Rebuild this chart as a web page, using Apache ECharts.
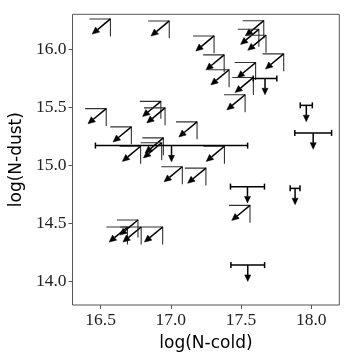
<!DOCTYPE html>
<html><head><meta charset="utf-8">
<script src="https://cdn.jsdelivr.net/npm/echarts@6/dist/echarts.min.js"></script>
<style>html,body{margin:0;padding:0;background:#fff}#c{width:357px;height:357px}</style>
</head><body><div id="c"></div>
<script>
// Upper limits in both quantities (corner of the L marker)
var bothX = [16.570,16.989,17.308,17.380,17.415,17.662,17.627,17.678,17.804,17.604,17.588,17.529,16.540,16.929,16.959,16.719,17.187,16.947,16.935,16.785,17.382,17.082,17.250,17.564,16.691,16.789,16.942,16.766];
var bothY = [16.26,16.243,16.114,15.951,15.823,16.245,16.171,16.12,15.96,15.885,15.757,15.608,15.489,15.551,15.495,15.332,15.375,15.237,15.195,15.165,15.165,14.989,14.977,14.657,14.471,14.471,14.471,14.531];
// Upper limits in dust with x range
var limX = [17.005,17.671,17.965,18.014,17.546,17.885,17.548];
var limY = [15.171,15.748,15.517,15.28,14.818,14.803,14.143];
var limXerr = [0.542,0.084,0.043,0.131,0.121,0.035,0.12];
var xTicks = [16.5,17.0,17.5,18.0];
var yTicks = [14.0,14.5,15.0,15.5,16.0];

var LBAR = 0.15, ARR = 0.13, DARR = 0.14;

function arrowHead(p0, p1, len, wid) {
  var dx = p1[0]-p0[0], dy = p1[1]-p0[1];
  var L = Math.sqrt(dx*dx+dy*dy); var ux = dx/L, uy = dy/L;
  var bx = p1[0]-ux*len, by = p1[1]-uy*len;
  return {base:[bx,by], pts:[[p1[0],p1[1]],[bx-uy*wid/2,by+ux*wid/2],[bx+uy*wid/2,by-ux*wid/2]]};
}

var bothData = bothX.map(function(x,i){return [x,bothY[i]];});
var limData = limX.map(function(x,i){return [x,limY[i],limXerr[i]];});

var chart = echarts.init(document.getElementById('c'), null, {renderer:'canvas'});
chart.setOption({
  animation:false,
  grid:{left:67.3,right:17.7,top:14.3,bottom:50.3,show:true,borderColor:'#555',borderWidth:1,backgroundColor:'transparent'},
  xAxis:{type:'value',min:16.3,max:18.2,
    name:'log(N-cold)',nameLocation:'middle',nameGap:30,
    nameTextStyle:{fontFamily:'DejaVu Sans',fontSize:17,color:'#000'},
    axisLine:{show:false},splitLine:{show:false},
    axisTick:{show:true,length:4,inside:false,customValues:xTicks,lineStyle:{color:'#555'}},
    axisLabel:{customValues:xTicks,margin:6,formatter:function(v){return (+v).toFixed(1);},
      fontFamily:'Liberation Serif',fontSize:17.5,color:'#222'}},
  yAxis:{type:'value',min:13.8,max:16.3,
    name:'log(N-dust)',nameLocation:'middle',nameGap:46,
    nameTextStyle:{fontFamily:'DejaVu Sans',fontSize:17,color:'#000'},
    axisLine:{show:false},splitLine:{show:false},
    axisTick:{show:true,length:4,inside:false,customValues:yTicks,lineStyle:{color:'#555'}},
    axisLabel:{customValues:yTicks,margin:6,formatter:function(v){return (+v).toFixed(1);},
      fontFamily:'Liberation Serif',fontSize:17.5,color:'#222'}},
  series:[
    {type:'custom',data:bothData,clip:false,
     renderItem:function(params,api){
       var x=api.value(0), y=api.value(1);
       var c=api.coord([x,y]);
       var h=api.coord([x-LBAR,y]);
       var v=api.coord([x,y-LBAR]);
       var t=api.coord([x-ARR,y-ARR]);
       var ah=arrowHead(c,t,7,6.5);
       return {type:'group',children:[
         {type:'polyline',shape:{points:[h,c,v]},style:{stroke:'#333',lineWidth:1.1,fill:null}},
         {type:'line',shape:{x1:c[0],y1:c[1],x2:ah.base[0],y2:ah.base[1]},style:{stroke:'#000',lineWidth:1.5}},
         {type:'polygon',shape:{points:ah.pts},style:{fill:'#000',stroke:'#000',lineWidth:0.5}}
       ]};
     }},
    {type:'custom',data:limData,clip:false,
     renderItem:function(params,api){
       var x=api.value(0), y=api.value(1), e=api.value(2);
       var c=api.coord([x,y]);
       var l=api.coord([x-e,y]);
       var r=api.coord([x+e,y]);
       var t=api.coord([x,y-DARR]);
       var ah=arrowHead(c,t,6.5,6);
       return {type:'group',children:[
         {type:'line',shape:{x1:l[0],y1:l[1],x2:r[0],y2:r[1]},style:{stroke:'#000',lineWidth:1.5}},
         {type:'line',shape:{x1:l[0],y1:l[1]-3,x2:l[0],y2:l[1]+3},style:{stroke:'#000',lineWidth:1.5}},
         {type:'line',shape:{x1:r[0],y1:r[1]-3,x2:r[0],y2:r[1]+3},style:{stroke:'#000',lineWidth:1.5}},
         {type:'line',shape:{x1:c[0],y1:c[1],x2:ah.base[0],y2:ah.base[1]},style:{stroke:'#000',lineWidth:1.5}},
         {type:'polygon',shape:{points:ah.pts},style:{fill:'#000',stroke:'#000',lineWidth:0.5}}
       ]};
     }}
  ]
});
</script></body></html>
